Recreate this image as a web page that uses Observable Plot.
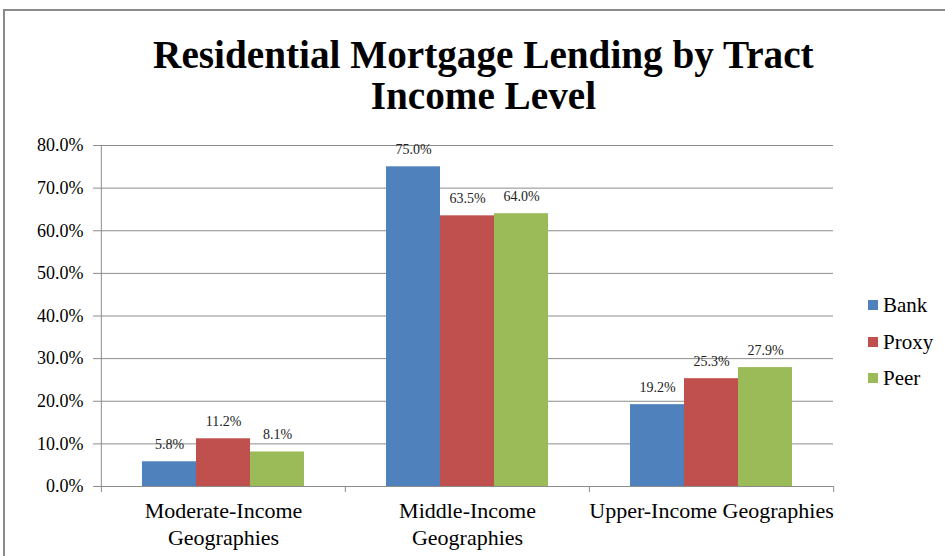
<!DOCTYPE html>
<html>
<head>
<meta charset="utf-8">
<script src="https://cdn.jsdelivr.net/npm/d3@7"></script>
<script src="https://cdn.jsdelivr.net/npm/@observablehq/plot@0.6"></script>
<style>
  html, body { margin: 0; padding: 0; background: #fff; overflow: hidden; }
  #wrap { position: relative; width: 945px; height: 556px; font-family: "Liberation Serif", "Times New Roman", serif; }
  #border { position: absolute; left: 3px; top: 9px; width: 1000px; height: 700px; border-left: 2px solid #8a8a8a; border-top: 2px solid #8a8a8a; box-sizing: border-box; }
  #title { position: absolute; left: 20px; top: 34px; width: 926px; text-align: center; font-weight: bold; font-size: 40px; line-height: 41px; color: #000; transform: scaleX(0.98); transform-origin: 483px 0; font-family: "Liberation Serif", serif; }
  #chart { position: absolute; left: 0; top: 0; }
  #legend { position: absolute; left: 868px; top: 0; font-size: 21px; color: #000; font-family: "Liberation Serif", serif; }
  .li { position: absolute; left: 0; white-space: nowrap; height: 24px; line-height: 24px; }
  .sw { position: absolute; left: 0; top: 7px; width: 10px; height: 10px; }
  .lt { position: absolute; left: 15px; top: 0; }
</style>
</head>
<body>
<div id="wrap">
  <div id="border"></div>
  <div id="chart"></div>
  <div id="title">Residential Mortgage Lending by Tract<br>Income Level</div>
  <div id="legend"></div>
</div>
<script>
// ---- Data ----
const categories = ["Moderate-Income Geographies", "Middle-Income Geographies", "Upper-Income Geographies"];
const categoryLabels = ["Moderate-Income\nGeographies", "Middle-Income\nGeographies", "Upper-Income Geographies"];
const series = ["Bank", "Proxy", "Peer"];
const bankValues = [5.8, 75.0, 19.2];
const proxyValues = [11.2, 63.5, 25.3];
const peerValues = [8.1, 64.0, 27.9];
const yTicks = [0, 10, 20, 30, 40, 50, 60, 70, 80];
const seriesColors = ["#4F81BD", "#C0504D", "#9BBB59"];

// ---- Build table ----
const valuesBySeries = [bankValues, proxyValues, peerValues];
const data = [];
categories.forEach((c, i) => {
  series.forEach((s, j) => {
    data.push({category: c, series: s, value: valuesBySeries[j][i]});
  });
});
const labelOf = new Map(categories.map((c, i) => [c, categoryLabels[i]]));

// ---- Layout ----
const W = 945, H = 556;
const mL = 100, mR = 112, mT = 145, mB = 70;
const facetW = (W - mL - mR) / categories.length;
const gridColor = "#8c8c8c";
const font = "'Liberation Serif', 'Times New Roman', serif";

const chart = Plot.plot({
  width: W,
  height: H,
  marginLeft: mL,
  marginRight: mR,
  marginTop: mT,
  marginBottom: mB,
  style: {fontFamily: font, background: "transparent", overflow: "visible"},
  fx: {domain: categories, paddingInner: 0, paddingOuter: 0, axis: null, label: null},
  x: {domain: series, paddingInner: 0, paddingOuter: 0.741, axis: null},
  y: {domain: [0, 80], axis: null},
  color: {domain: series, range: seriesColors},
  marks: [
    Plot.gridY(yTicks, {stroke: gridColor, strokeOpacity: 1, strokeWidth: 1}),
    Plot.barY(data, {fx: "category", x: "series", y: "value", fill: "series"}),
    Plot.text(data, {
      fx: "category", x: "series", y: "value",
      text: d => d.value.toFixed(1) + "%",
      dy: -17, lineAnchor: "middle", fontSize: 14, fill: "#222"
    }),
    // y axis line (left edge of first facet)
    Plot.ruleX([categories[0]], {fx: d => d, x: null, y1: 0, y2: 80, dx: -facetW / 2, stroke: gridColor}),
    // category boundary tick marks
    Plot.ruleX(categories, {fx: d => d, x: null, y1: 0, y2: 0, insetBottom: -6, dx: -facetW / 2, stroke: gridColor}),
    Plot.ruleX([categories[categories.length - 1]], {fx: d => d, x: null, y1: 0, y2: 0, insetBottom: -6, dx: facetW / 2, stroke: gridColor}),
    Plot.axisY(yTicks, {
      tickFormat: d => d.toFixed(1) + "%",
      tickSize: 8, tickPadding: 10, fontSize: 18,
      stroke: gridColor, fill: "#000", label: null
    }),
    Plot.axisFx({
      anchor: "bottom",
      tickSize: 0, tickPadding: 13, fontSize: 22, lineHeight: 1.21,
      tickFormat: d => labelOf.get(d), fill: "#000", label: null
    })
  ]
});
document.getElementById("chart").appendChild(chart);

// ---- Legend ----
const legend = document.getElementById("legend");
const legendTops = [293, 330, 366];
series.forEach((s, i) => {
  const item = document.createElement("div");
  item.className = "li";
  item.style.top = legendTops[i] + "px";
  const sw = document.createElement("div");
  sw.className = "sw";
  sw.style.background = seriesColors[i];
  const lt = document.createElement("div");
  lt.className = "lt";
  lt.textContent = s;
  item.appendChild(sw);
  item.appendChild(lt);
  legend.appendChild(item);
});
</script>
</body>
</html>
